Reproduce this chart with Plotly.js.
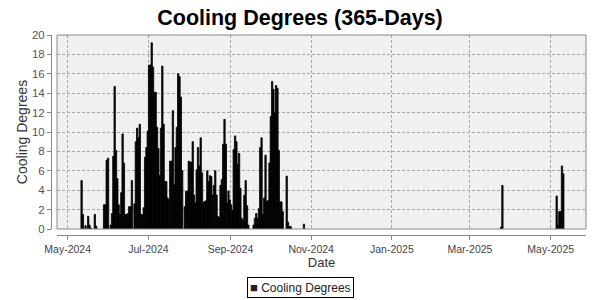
<!DOCTYPE html>
<html><head><meta charset="utf-8">
<script src="https://cdn.plot.ly/plotly-3.0.1.min.js"></script>
<style>html,body{margin:0;padding:0;background:#fff}#chart{width:600px;height:300px}</style>
</head><body><div id="chart"></div>
<script>
// Daily cooling degrees, first day 2024-05-11 (through 2024-10-27)
const summerStart = [2024, 4, 11];
const summerValues = [
  5.0, 1.5, 0, 0.35, 0, 1.3, 0.4, 0.1, 0, 0,
  1.5, 0.3, 0, 0, 0, 0, 0, 2.5, 2.5, 7.1,
  7.3, 0, 0.4, 1.6, 7.5, 14.7, 8.1, 5.2, 2.5, 1.5,
  3.75, 9.8, 6.8, 1.5, 1.5, 1.6, 2.3, 2.3, 5.0, 0,
  2.6, 9.0, 10.4, 9.4, 10.8, 1.5, 1.5, 2.2, 7.4, 8.4,
  10.1, 16.9, 16.9, 19.2, 16.7, 14.1, 14.1, 10.5, 8.3, 5.5,
  10.4, 16.8, 10.8, 4.9, 4.9, 3.2, 3.0, 7.0, 7.0, 12.2,
  4.6, 8.4, 10.5, 16.0, 15.7, 13.6, 6.0, 0, 2.3, 3.9,
  3.9, 7.0, 6.9, 6.9, 9.0, 3.5, 2.7, 6.1, 8.4, 6.5,
  9.4, 5.8, 2.7, 2.85, 2.9, 6.0, 4.9, 5.5, 5.4, 3.5,
  4.5, 6.0, 3.5, 1.3, 1.2, 4.5, 5.1, 8.75, 11.3, 8.75,
  2.7, 3.9, 3.0, 2.5, 1.9, 8.2, 9.6, 9.0, 6.7, 7.8,
  4.2, 1.1, 0.9, 3.5, 5.0, 2.4, 0.4, 0, 0, 0,
  0.4, 1.1, 1.6, 1.1, 2.1, 8.4, 9.4, 1.5, 3.2, 7.6,
  2.8, 2.95, 6.8, 11.6, 15.2, 14.4, 12.0, 14.8, 14.5, 8.1,
  2.8, 2.8, 1.8, 0, 0, 5.45, 0.7, 0.25, 0.25, 0,
  0, 0, 0, 0, 0, 0, 0, 0, 0.5
];
const springDates = ['2025-03-24', '2025-03-25', '2025-05-05', '2025-05-06', '2025-05-07', '2025-05-08', '2025-05-09', '2025-05-10'];
const springValues = [0.2, 4.5, 3.4, 0.4, 1.8, 1.8, 6.5, 5.7];
const yTicks = [0, 2, 4, 6, 8, 10, 12, 14, 16, 18, 20];
const seriesName = 'Cooling Degrees';

function dayStr(y, m, d) {
  return new Date(Date.UTC(y, m, d)).toISOString().slice(0, 10);
}
const xs = [], ys = [];
summerValues.forEach((v, i) => {
  xs.push(dayStr(summerStart[0], summerStart[1], summerStart[2] + i) + ' 12:00');
  ys.push(v === 0 ? null : v);
});
springDates.forEach((d, i) => { xs.push(d + ' 12:00'); ys.push(springValues[i]); });

const DAY = 86400000;
const xRange = ['2024-04-22 22:00', '2025-05-27 16:00'];
const yRange = [0, 20];

const traces = [
  { type: 'bar', x: xs, y: ys, name: seriesName, width: xs.map(() => DAY),
    marker: { color: '#000', line: { width: 0.8, color: '#000' } }, xaxis: 'x', yaxis: 'y', showlegend: false },
  { type: 'scatter', mode: 'markers', x: [], y: [], xaxis: 'x2', yaxis: 'y2', showlegend: false },
  { type: 'scatter', mode: 'markers', x: [], y: [], xaxis: 'x3', yaxis: 'y3', showlegend: false }
];

const xDom = [5 / 534, 1];
const yDom = [0.03, 1];
const tickFont = { family: 'Liberation Sans', size: 10.5, color: '#444' };
const gridStyle = { showgrid: true, gridcolor: '#a8a8a8', griddash: '3px,2px', gridwidth: 1, zeroline: false };

const layout = {
  width: 600, height: 300,
  margin: { l: 52, r: 14, t: 35, b: 65 },
  paper_bgcolor: '#fff', plot_bgcolor: 'rgba(0,0,0,0)',
  showlegend: false,
  title: {
    text: 'Cooling Degrees (365-Days)',
    font: { family: 'Liberation Sans', size: 21.5, color: '#000', weight: 'bold' },
    xref: 'container', x: 0.5, xanchor: 'center',
    yref: 'container', y: 0.943, yanchor: 'middle'
  },
  xaxis: Object.assign({
    type: 'date', range: xRange, domain: xDom, anchor: 'y',
    tick0: '2024-05-01', dtick: 'M2', showticklabels: false, ticks: '', showline: false
  }, gridStyle),
  yaxis: Object.assign({
    range: yRange, domain: yDom, anchor: 'x', tickvals: yTicks,
    showticklabels: false, ticks: '', showline: false
  }, gridStyle),
  xaxis2: {
    type: 'date', range: xRange, domain: xDom, anchor: 'y2',
    tick0: '2024-05-01', dtick: 'M2', tickformat: '%b-%Y', tickangle: 0,
    showline: true, linecolor: '#888', linewidth: 1,
    ticks: 'outside', ticklen: 4, tickcolor: '#888',
    tickfont: tickFont, showgrid: false, zeroline: false,
    title: { text: 'Date', font: { family: 'Liberation Sans', size: 13, color: '#333' }, standoff: 4 }
  },
  yaxis2: { domain: [0, 0.03], anchor: 'x2', visible: false, range: [0, 1] },
  xaxis3: { domain: [0, 5 / 534], anchor: 'y3', visible: false, range: [0, 1] },
  yaxis3: {
    range: yRange, domain: yDom, anchor: 'x3', side: 'left', tickvals: yTicks,
    showline: true, linecolor: '#888', linewidth: 1,
    ticks: 'outside', ticklen: 4, tickcolor: '#888',
    tickfont: { family: 'Liberation Sans', size: 11.5, color: '#555' },
    showgrid: false, zeroline: false,
    title: { text: 'Cooling Degrees', font: { family: 'Liberation Sans', size: 14, color: '#333' }, standoff: 1 }
  },
  shapes: [
    { type: 'rect', xref: 'x domain', yref: 'y domain', x0: 0, x1: 1, y0: 0, y1: 1,
      line: { width: 0 }, fillcolor: '#f0f0f0', layer: 'below' },
    { type: 'rect', xref: 'x domain', yref: 'y domain', x0: 0, x1: 1, y0: 0, y1: 1,
      line: { color: '#888', width: 1 }, fillcolor: 'rgba(0,0,0,0)', layer: 'above' }
  ],
  annotations: [{
    text: '<span style="font-size:13px">■</span> ' + seriesName,
    xref: 'paper', yref: 'paper', x: 248 / 534, y: -42 / 200,
    xanchor: 'center', yanchor: 'top', showarrow: false,
    font: { family: 'Liberation Sans', size: 12, color: '#222' },
    bordercolor: '#000', borderwidth: 1, borderpad: 2, bgcolor: '#fff'
  }]
};

Plotly.newPlot('chart', traces, layout, { staticPlot: true, displayModeBar: false });
</script></body></html>
